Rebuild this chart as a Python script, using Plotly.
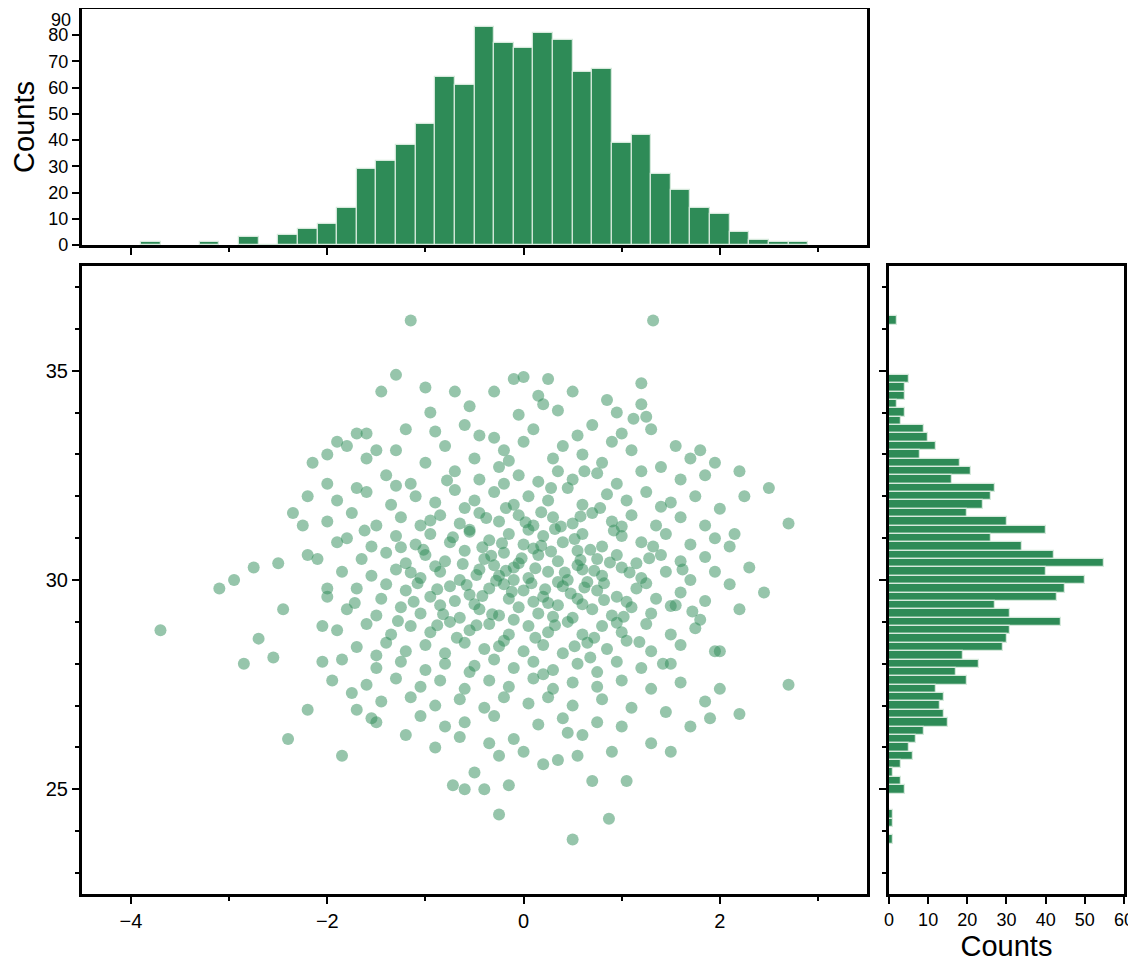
import plotly.graph_objects as go

# top histogram (x values), bin width 0.2
top_centers = [-3.8, -3.2, -2.8, -2.6, -2.4, -2.2, -2.0, -1.8, -1.6, -1.4, -1.2, -1.0, -0.8, -0.6,
               -0.4, -0.2, 0.0, 0.2, 0.4, 0.6, 0.8, 1.0, 1.2, 1.4, 1.6, 1.8, 2.0, 2.2, 2.4, 2.6, 2.8]
top_counts = [1, 1, 3, 0, 4, 6, 8, 14, 29, 32, 38, 46, 64, 61,
              83, 77, 75, 81, 78, 66, 67, 39, 42, 27, 21, 14, 12, 5, 2, 1, 1]

# right histogram (y values), bin width 0.2
right_centers = [36.2, 34.8, 34.6, 34.4, 34.2, 34.0, 33.8, 33.6, 33.4, 33.2, 33.0, 32.8, 32.6, 32.4,
                 32.2, 32.0, 31.8, 31.6, 31.4, 31.2, 31.0, 30.8, 30.6, 30.4, 30.2, 30.0, 29.8,
                 29.6, 29.4, 29.2, 29.0, 28.8, 28.6, 28.4, 28.2, 28.0, 27.8, 27.6, 27.4, 27.2,
                 27.0, 26.8, 26.6, 26.4, 26.2, 26.0, 25.8, 25.6, 25.4, 25.2, 25.0, 24.4, 24.2, 23.8]
right_counts = [2, 5, 4, 4, 2, 4, 3, 9, 10, 12, 8, 18, 21, 16,
                27, 26, 24, 20, 30, 40, 26, 34, 42, 55, 40, 50, 45,
                43, 27, 31, 44, 31, 30, 29, 19, 23, 17, 20, 12, 14,
                13, 14, 15, 9, 7, 5, 6, 3, 1, 3, 4, 1, 1, 1]

# scatter points
pts = [
    (-3.7, 28.8), (-3.1, 29.8), (-2.95, 30.0), (-2.75, 30.3), (-2.85, 28.0), (-2.7, 28.6),
    (-2.55, 28.15), (-2.45, 29.3), (-2.5, 30.4), (-2.4, 26.2), (-2.35, 31.6), (-2.2, 26.9),
    (-2.25, 31.3), (-2.15, 32.8), (-1.85, 25.8), (-1.15, 36.2), (1.32, 36.2), (0.5, 23.8),
    (0.87, 24.3), (-0.25, 24.4), (2.7, 27.5), (2.7, 31.35), (2.5, 32.2), (2.45, 29.7),
    (2.2, 26.8), (2.2, 32.6), (2.25, 32.0), (1.05, 25.2), (0.7, 25.2), (-0.72, 25.1),
    (-0.4, 25.0), (-0.6, 25.0), (-0.15, 25.1), (-1.3, 34.9), (-1.45, 34.5), (-0.3, 34.5),
    (0.95, 34.0), (1.2, 34.7), (0.0, 34.85), (-0.1, 34.8), (0.25, 34.8), (0.5, 34.5),
    (0.2, 34.2), (0.15, 34.4), (1.2, 34.2), (1.25, 33.9), (-1.0, 34.6), (-0.95, 34.0),
    (-0.7, 34.5), (-2.1, 30.5), (-2.0, 29.8), (-2.05, 28.9), (-1.95, 27.6), (-1.9, 30.9),
    (-2.0, 32.3), (-1.8, 33.2), (-1.6, 33.5), (-1.7, 32.2), (-1.85, 28.1), (-1.7, 26.9),
    (1.9, 26.7), (2.0, 28.3), (2.1, 29.9), (2.3, 30.3), (2.15, 31.1), (1.95, 32.8),
    (1.8, 33.1), (2.0, 27.4), (2.1, 30.8), (1.7, 26.5), (1.3, 26.1), (1.5, 25.9),
    (0.2, 25.6), (0.0, 25.9), (-0.5, 25.4), (-0.9, 26.0), (-1.2, 26.3), (-1.5, 26.6),
    (0.9, 25.9), (0.6, 26.3), (0.35, 25.7), (-0.1, 26.2), (-0.35, 26.1), (-0.8, 26.5),
    (-1.7, 33.5), (-1.9, 33.3), (-1.5, 33.1), (-1.2, 33.6), (-0.9, 33.55), (-0.6, 33.7),
    (-0.3, 33.4), (0.1, 33.6), (0.4, 33.2), (0.7, 33.7), (1.0, 33.5), (1.3, 33.6), (0.9, 33.3),
    (-2.0, 33.0), (-1.6, 32.9), (-1.3, 33.1), (-1.0, 32.8), (-0.8, 33.2), (-0.5, 32.9),
    (-0.2, 33.1), (0.0, 33.3), (0.3, 32.9), (0.6, 33.0), (0.8, 32.8), (1.1, 33.1), (1.4, 32.7),
    (1.7, 32.9), (1.55, 33.2), (-1.4, 32.5), (-1.15, 32.3), (-0.7, 32.6), (-0.45, 32.4),
    (-0.25, 32.7), (-0.05, 32.5), (0.15, 32.35), (0.35, 32.6), (0.5, 32.4), (0.75, 32.55),
    (0.95, 32.3), (1.2, 32.6), (1.6, 32.4), (1.85, 32.5), (-2.2, 32.0), (-1.9, 31.9),
    (-1.6, 32.1), (-1.35, 31.8), (-1.1, 32.0), (-0.9, 31.85), (-0.7, 32.15), (-0.5, 31.9),
    (-0.3, 32.1), (-0.1, 31.8), (0.05, 32.0), (0.25, 31.9), (0.45, 32.2), (0.6, 31.8),
    (0.85, 32.05), (1.05, 31.9), (1.25, 32.1), (1.5, 31.85), (1.75, 32.0), (2.0, 31.7),
    (-2.0, 31.4), (-1.75, 31.6), (-1.5, 31.3), (-1.25, 31.5), (-1.05, 31.3), (-0.85, 31.55),
    (-0.65, 31.35), (-0.45, 31.6), (-0.25, 31.4), (-0.05, 31.55), (0.1, 31.3), (0.3, 31.5),
    (0.5, 31.35), (0.7, 31.6), (0.9, 31.4), (1.1, 31.55), (1.35, 31.3), (1.6, 31.5),
    (1.85, 31.3), (-1.8, 31.0), (-1.55, 30.8), (-1.3, 31.05), (-1.1, 30.85), (-0.95, 31.1),
    (-0.75, 30.9), (-0.55, 31.15), (-0.35, 30.95), (-0.15, 31.1), (0.0, 30.85), (0.2, 31.05),
    (0.4, 30.9), (0.6, 31.1), (0.8, 30.8), (1.0, 31.05), (1.2, 30.9), (1.45, 31.1),
    (1.7, 30.85), (1.95, 31.0), (-2.2, 30.6), (-1.65, 30.5), (-1.4, 30.65), (-1.2, 30.4),
    (-1.0, 30.6), (-0.8, 30.45), (-0.6, 30.7), (-0.4, 30.5), (-0.2, 30.65), (-0.05, 30.4),
    (0.15, 30.6), (0.35, 30.45), (0.55, 30.7), (0.75, 30.5), (0.95, 30.6), (1.15, 30.4),
    (1.4, 30.6), (1.6, 30.45), (1.85, 30.55), (-1.85, 30.2), (-1.55, 30.1), (-1.3, 30.25),
    (-1.05, 30.05), (-0.85, 30.2), (-0.65, 30.0), (-0.45, 30.25), (-0.25, 30.1), (-0.1, 30.3),
    (0.05, 30.05), (0.25, 30.2), (0.45, 30.0), (0.6, 30.25), (0.8, 30.1), (1.0, 30.3),
    (1.2, 30.05), (1.45, 30.2), (1.7, 30.0), (1.95, 30.2), (-2.0, 29.6), (-1.7, 29.8),
    (-1.45, 29.55), (-1.2, 29.75), (-0.95, 29.6), (-0.75, 29.85), (-0.55, 29.65),
    (-0.35, 29.8), (-0.15, 29.55), (0.0, 29.75), (0.2, 29.6), (0.4, 29.85), (0.55, 29.55),
    (0.75, 29.75), (0.95, 29.6), (1.15, 29.8), (1.35, 29.55), (1.6, 29.7), (1.85, 29.5),
    (-1.8, 29.3), (-1.5, 29.15), (-1.25, 29.35), (-1.05, 29.2), (-0.85, 29.4), (-0.65, 29.1),
    (-0.45, 29.3), (-0.25, 29.15), (-0.05, 29.35), (0.15, 29.2), (0.35, 29.4), (0.5, 29.1),
    (0.7, 29.3), (0.9, 29.15), (1.1, 29.35), (1.3, 29.2), (1.55, 29.4), (1.8, 29.05),
    (2.2, 29.3), (-1.9, 28.8), (-1.6, 28.95), (-1.35, 28.7), (-1.15, 28.9), (-0.95, 28.75),
    (-0.75, 29.0), (-0.55, 28.8), (-0.35, 28.95), (-0.15, 28.7), (0.05, 28.9), (0.25, 28.75),
    (0.45, 29.0), (0.6, 28.7), (0.8, 28.9), (1.0, 28.75), (1.25, 28.95), (1.5, 28.7),
    (1.75, 28.85), (-1.7, 28.4), (-1.4, 28.5), (-1.2, 28.3), (-1.0, 28.45), (-0.8, 28.25),
    (-0.6, 28.5), (-0.4, 28.35), (-0.2, 28.55), (0.0, 28.3), (0.2, 28.45), (0.4, 28.25),
    (0.65, 28.5), (0.85, 28.35), (1.05, 28.55), (1.3, 28.3), (1.6, 28.45), (1.95, 28.3),
    (-2.05, 28.05), (-1.5, 27.9), (-1.25, 28.05), (-1.0, 27.85), (-0.8, 28.0), (-0.55, 27.8),
    (-0.3, 28.1), (-0.1, 27.9), (0.1, 28.05), (0.3, 27.85), (0.55, 28.0), (0.75, 27.8),
    (0.95, 28.05), (1.2, 27.9), (1.5, 28.0), (-1.6, 27.5), (-1.3, 27.65), (-1.05, 27.45),
    (-0.85, 27.6), (-0.6, 27.4), (-0.35, 27.6), (-0.15, 27.45), (0.1, 27.65), (0.3, 27.4),
    (0.5, 27.55), (0.75, 27.45), (1.0, 27.6), (1.3, 27.4), (1.6, 27.55), (-1.45, 27.1),
    (-1.15, 27.2), (-0.9, 27.0), (-0.65, 27.15), (-0.4, 26.95), (-0.2, 27.2), (0.05, 27.05),
    (0.25, 27.2), (0.5, 27.0), (0.8, 27.15), (1.1, 26.95), (1.45, 26.85), (-1.55, 26.7),
    (-1.05, 26.75), (-0.6, 26.6), (-0.3, 26.75), (0.15, 26.55), (0.4, 26.7), (0.75, 26.6),
    (1.0, 26.5), (-0.55, 31.2), (0.1, 30.75), (-0.3, 30.35), (0.35, 29.95), (-0.2, 29.9),
    (0.55, 30.35), (-0.7, 29.5), (0.25, 29.45), (-0.1, 30.0), (0.05, 31.2), (0.65, 29.95),
    # denser core
    (-0.62, 30.38), (-0.48, 30.12), (-0.33, 30.58), (-0.18, 30.22), (-0.02, 30.52),
    (0.12, 30.28), (0.28, 30.68), (0.42, 30.18), (0.58, 30.48), (0.72, 30.22), (0.88, 30.42),
    (-0.9, 30.33), (-1.15, 30.18), (1.08, 30.18), (1.28, 30.52), (-0.58, 29.88), (-0.42, 29.62),
    (-0.28, 29.98), (-0.12, 29.72), (0.08, 29.92), (0.22, 29.78), (0.48, 29.68), (0.62, 29.82),
    (0.82, 29.92), (-0.88, 29.78), (-1.08, 29.92), (1.05, 29.48), (1.25, 29.92), (-0.72, 31.02),
    (-0.42, 30.78), (-0.22, 30.88), (0.18, 30.82), (0.32, 31.22), (0.52, 30.98), (0.68, 30.72),
    (0.92, 31.18), (-1.02, 30.72), (-0.5, 29.42), (-0.32, 29.18), (-0.1, 29.05), (0.1, 29.48),
    (0.3, 29.12), (0.6, 29.42), (0.82, 29.52), (-0.82, 29.18), (-1.12, 29.48), (1.02, 29.12),
    (-0.6, 31.72), (-0.38, 31.48), (-0.18, 31.72), (0.02, 31.38), (0.18, 31.62), (0.38, 31.28),
    (0.58, 31.52), (0.78, 31.72), (-0.95, 31.42), (1.0, 31.28), (-0.68, 28.62), (-0.48, 28.92),
    (-0.25, 28.42), (0.12, 28.62), (0.32, 28.92), (0.52, 28.42), (0.72, 28.62), (-0.88, 28.92),
    (0.95, 28.98), (-1.28, 29.02), (1.18, 28.52), (-0.78, 32.38), (-0.2, 32.3), (0.28, 32.2),
    (0.62, 32.6), (-1.25, 30.78), (1.32, 30.8), (-1.4, 29.9), (1.5, 29.38), (-0.5, 27.95),
    (0.2, 27.75), (0.68, 28.15), (-1.5, 28.2), (1.42, 28.0), (-1.3, 32.25), (1.4, 31.75),
    (-0.45, 33.45), (0.55, 33.45), (-0.15, 32.85), (0.45, 26.35), (-0.65, 26.25), (-1.62, 31.18),
    (1.62, 30.25), (-1.72, 29.45), (1.72, 29.25), (-0.05, 33.95), (0.35, 34.05), (-0.55, 34.15),
    (0.85, 34.3), (1.12, 33.85), (-1.75, 27.3), (1.85, 27.1), (-0.25, 25.8), (0.55, 25.8),
]
scatter_x = [p[0] for p in pts]
scatter_y = [p[1] for p in pts]

green = "#2E8B57"
edge = "#d6e9dc"
font = "Liberation Sans, Arial, sans-serif"

fig = go.Figure()
fig.add_trace(go.Scatter(x=scatter_x, y=scatter_y, mode="markers",
                         marker=dict(color=green, opacity=0.5, size=12, line=dict(width=0)),
                         xaxis="x", yaxis="y"))
fig.add_trace(go.Bar(x=top_centers, y=top_counts, width=0.2,
                     marker=dict(color=green, line=dict(color=edge, width=1.2)),
                     xaxis="x2", yaxis="y2"))
fig.add_trace(go.Bar(y=right_centers, x=right_counts, width=0.2, orientation="h",
                     marker=dict(color=green, line=dict(color=edge, width=1.2)),
                     xaxis="x3", yaxis="y3"))

minor = dict(dtick=1, ticks="outside", ticklen=4, tickcolor="black", tickwidth=1.5)
frame = dict(showline=True, linewidth=3, linecolor="black", mirror=True, showgrid=False,
             zeroline=False, ticks="outside", ticklen=7, tickwidth=1.5, tickcolor="black",
             automargin=False, tickfont=dict(family=font, size=20, color="black"))
title_font = dict(family=font, size=29, color="black")
small_font = dict(family=font, size=18, color="black")

main_x = [0.0651, 0.7562]
main_y = [0.0828, 0.7329]

fig.update_layout(
    width=1136, height=966, showlegend=False, bargap=0,
    paper_bgcolor="white", plot_bgcolor="white",
    margin=dict(l=0, r=0, t=0, b=0),
    xaxis=dict(frame, domain=main_x, range=[-4.5, 3.5], dtick=2, minor=minor),
    yaxis=dict(frame, domain=main_y, range=[22.5, 37.5], dtick=5, minor=minor),
    xaxis2=dict(frame, domain=main_x, range=[-4.5, 3.5], dtick=2, showticklabels=False,
                anchor="y2", minor=minor),
    yaxis2=dict(frame, domain=[0.7547, 0.9990], range=[0, 90], anchor="x2",
                tickmode="array", tickvals=[0, 10, 20, 30, 40, 50, 60, 70, 80],
                tickfont=small_font,
                title=dict(text="Counts", font=title_font, standoff=6)),
    xaxis3=dict(frame, domain=[0.7755, 0.9824], range=[0, 60], dtick=10, anchor="y3",
                tickfont=small_font,
                title=dict(text="Counts", font=title_font, standoff=8)),
    yaxis3=dict(frame, domain=main_y, range=[22.5, 37.5], dtick=5, showticklabels=False,
                anchor="x3", minor=minor),
)
# top tick label of the upper histogram sits at the page edge
fig.add_annotation(text="90", xref="paper", yref="y2", x=main_x[0], y=90, xanchor="right",
                   yanchor="top", xshift=-9, yshift=1, showarrow=False, font=small_font)

fig.write_html("out.html")
